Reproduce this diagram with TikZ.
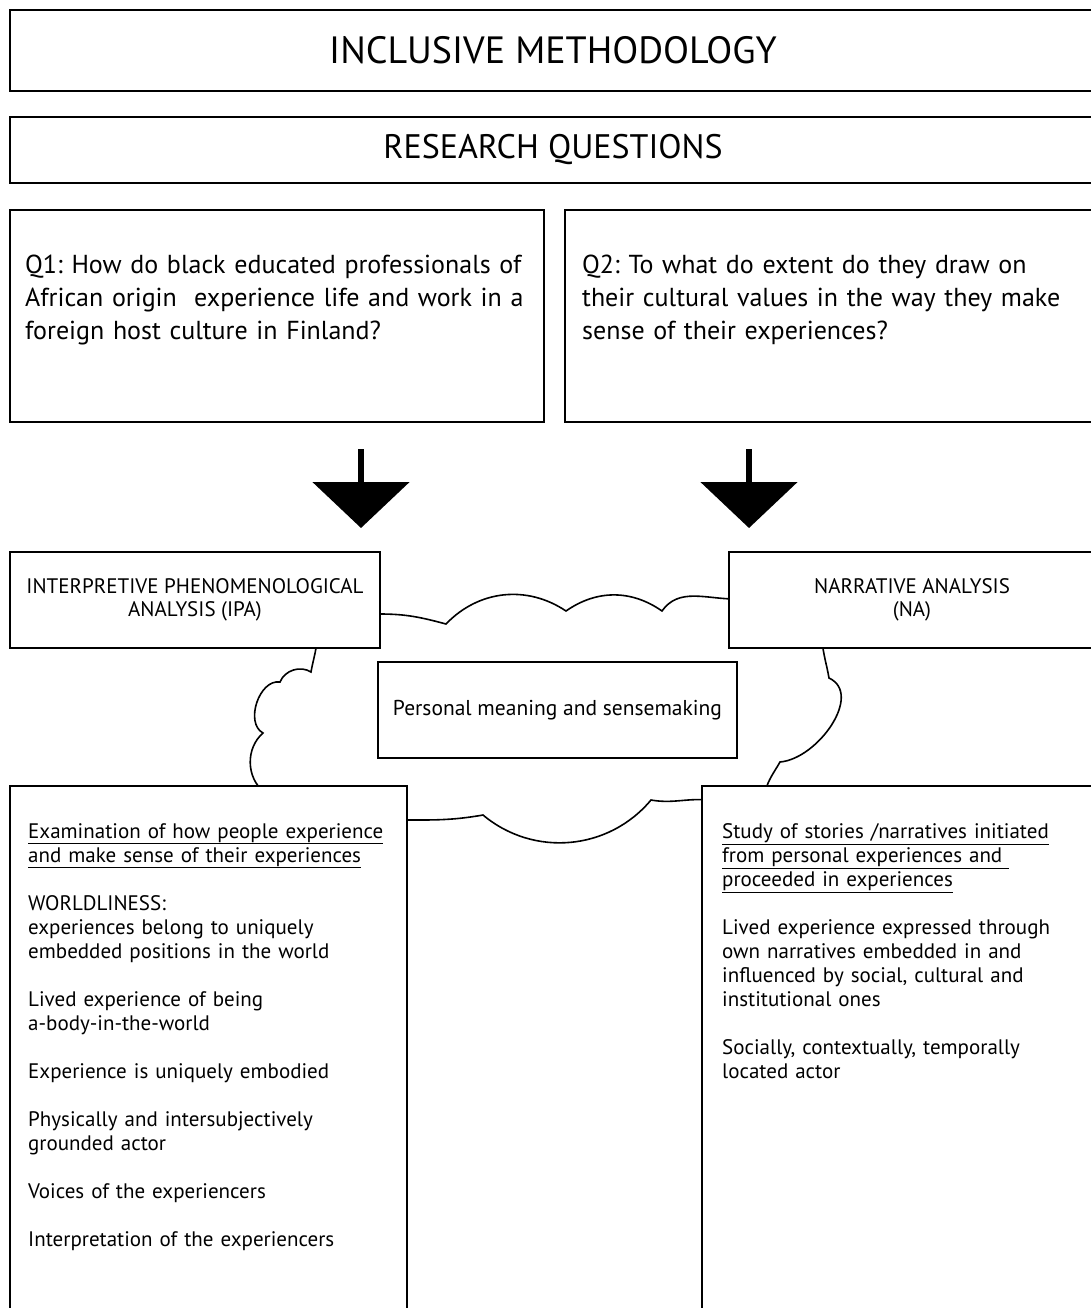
\documentclass[tikz,border=0pt]{standalone}
\usepackage{fontspec}
\setmainfont{PT Sans}
\usepackage{tikz}
\usetikzlibrary{arrows.meta}
\usetikzlibrary{calc,positioning}
\frenchspacing
\tikzset{%
  % Specifications for style of nodes:
  base/.style = {rectangle, draw=black, line width=1.6pt, fill=white,
    anchor=north west, inner sep=0pt, outer sep=0pt},
  banner/.style = {base, minimum width=1086pt},
  question/.style = {base, minimum height=212pt},
  method/.style = {base, minimum width=370pt, minimum height=96pt,
    align=center, font=\fontsize{21}{23.5}\selectfont},
  details/.style = {base, minimum height=560pt},
  qtext/.style = {anchor=north west, inner sep=0pt, text width=525pt,
    align=left, font=\fontsize{26}{33}\selectfont},
  dtext/.style = {anchor=north west, inner sep=0pt, text width=385pt,
    align=left, font=\fontsize{21}{24}\selectfont},
  bigarrow/.style = {line width=6pt, -{Triangle[width=96pt,length=46pt]}},
  cloudline/.style = {line width=1.6pt},
}

\begin{document}
\begin{tikzpicture}[x=1pt,y=1pt]
  \useasboundingbox (0,0) rectangle (1091,-1308);
  \clip (0,0) rectangle (1091,-1308);
  % the cloud behind the middle boxes
  \draw[cloudline] (372,-614) -- (380,-614) to[out=0,in=165] (446,-624)
    to[bend left=40] (566,-611)
    to[bend left=35] (662,-611)
    to[out=55,in=180] (735,-599) -- (822,-640)
    to[out=-85,in=100] (829,-678)
    to[out=-25,in=5] (780,-762)
    to[out=-120,in=75] (765,-792) -- (708,-800)
    to[out=175,in=-10] (651,-800)
    to[bend left=45] (483,-815)
    to[out=190,in=0] (400,-820) -- (264,-792)
    to[bend left=50] (263,-733)
    to[bend left=80] (280,-682)
    to[bend left=50] (311,-672)
    to[out=80,in=-95] (317,-640) -- cycle;
  % Specification of nodes (position, etc.)
  \node(Incl)[banner, minimum height=81pt, font=\fontsize{38}{42}\selectfont]
    at (10,-10) {INCLUSIVE METHODOLOGY};
  \node(RQ)[banner, minimum height=66pt, font=\fontsize{34}{38}\selectfont]
    at (10,-117) {RESEARCH QUESTIONS};
  \node(Q1)[question, minimum width=534pt] at (10,-210) {};
  \node(Q2)[question, minimum width=540pt] at (565,-210) {};
  \node(Q1t)[qtext, below right=45pt and 15pt of Q1.north west]{%
    Q1: How do black educated professionals of\\
    African origin~ experience life and work in a\\
    foreign host culture in Finland?};
  \node(Q2t)[qtext, below right=45pt and 17pt of Q2.north west]{%
    Q2: To what do extent do they draw on\\
    their cultural values in the way they make\\
    sense of their experiences?};
  \node(IPA)[method] at (10,-552) {INTERPRETIVE PHENOMENOLOGICAL\\ ANALYSIS (IPA)};
  \node(NA)[method, minimum width=366pt] at (729,-552) {NARRATIVE ANALYSIS\\ (NA)};
  \node(PM)[method, minimum width=359pt, font=\fontsize{21.5}{24}\selectfont]
    at (378,-662) {Personal meaning and sensemaking};
  \node(IPAd)[details, minimum width=397pt] at (10,-786) {};
  \node(NAd)[details, minimum width=400pt] at (702,-786) {};
  \node(IPAt)[dtext, below right=37pt and 18pt of IPAd.north west]{%
    \underline{Examination of how people experience}\\
    \underline{and make sense of their experiences}\\[24pt]
    WORLDLINESS:\\
    experiences belong to uniquely\\
    embedded positions in the world\\[24pt]
    Lived experience of being\\
    a-body-in-the-world\\[24pt]
    Experience is uniquely embodied\\[24pt]
    Physically and intersubjectively\\
    grounded actor\\[24pt]
    Voices of the experiencers\\[24pt]
    Interpretation of the experiencers};
  \node(NAt)[dtext, below right=37pt and 20pt of NAd.north west]{%
    \underline{Study of stories /narratives initiated}\\
    \underline{from personal experiences and\ }\\
    \underline{proceeded in experiences}\\[24pt]
    Lived experience expressed through\\
    own narratives embedded in and\\
    influenced by social, cultural and\\
    institutional ones\\[24pt]
    Socially, contextually, temporally\\
    located actor};
  % block arrows from the questions to the analyses
  \coordinate(a1) at (361,-449);
  \coordinate(b1) at (361,-528);
  \coordinate(a2) at (749,-449);
  \coordinate(b2) at (749,-528);
  \draw[bigarrow](a1) -- (b1);
  \draw[bigarrow](a2) -- (b2);
\end{tikzpicture}
\end{document}
